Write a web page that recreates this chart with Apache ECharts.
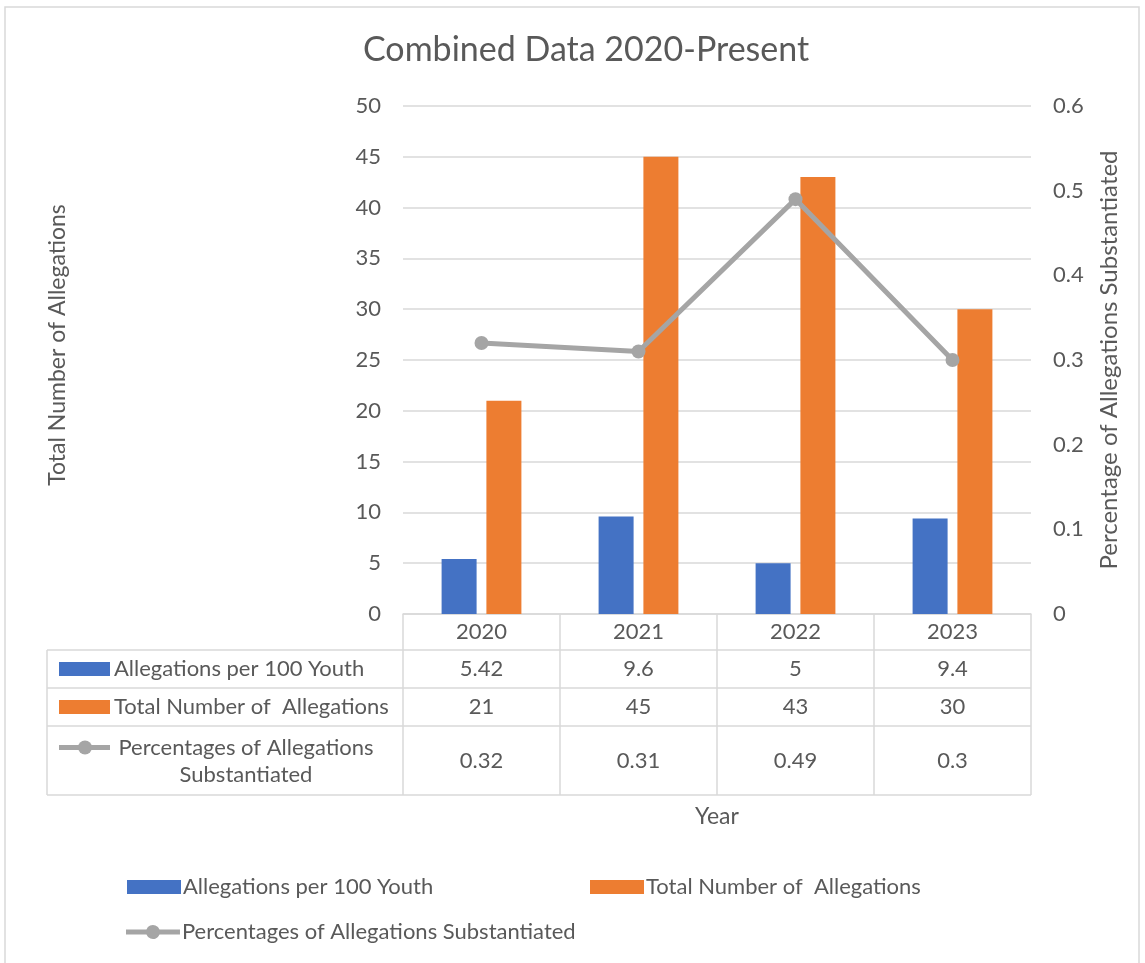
<!DOCTYPE html>
<html>
<head>
<meta charset="utf-8">
<script src="https://cdn.jsdelivr.net/npm/echarts@6/dist/echarts.min.js"></script>
<style>
  html, body { margin: 0; padding: 0; background: #fff; }
  #chart { width: 1145px; height: 963px; }
</style>
</head>
<body>
<div id="chart"></div>
<script>
// chart data
const years = ['2020', '2021', '2022', '2023'];
const perYouth = [5.42, 9.6, 5, 9.4];
const totalAllegations = [21, 45, 43, 30];
const pctSubstantiated = [0.32, 0.31, 0.49, 0.3];
const seriesNames = [
  'Allegations per 100 Youth',
  'Total Number of  Allegations',
  'Percentages of Allegations Substantiated'
];
const tableLabels = [
  ['Allegations per 100 Youth'],
  ['Total Number of  Allegations'],
  ['Percentages of Allegations', 'Substantiated']
];

const colors = ['#4472C4', '#ED7D31', '#A5A5A5'];
const textColor = '#595959';
const lineColor = '#D9D9D9';
const font = 'Lato, "Open Sans", sans-serif';
const fs = 22;

const grid = { left: 403, right: 114, top: 106, bottom: 349 };
const W = 1145, H = 963;
const plotRight = W - grid.right;
const plotBottom = H - grid.bottom;
const tableLeft = 47;
const rowLines = [650, 688, 726, 795];

// line + dot legend icon, 54 x 14 box
const lineIcon = 'path://M0,4.5 L20.46,4.5 A7,7 0 0 1 33.54,4.5 L54,4.5 L54,9.5 L33.54,9.5 A7,7 0 0 1 20.46,9.5 L0,9.5 Z';

const chart = echarts.init(document.getElementById('chart'));

chart.setOption({
  animation: false,
  color: colors,
  textStyle: { fontFamily: font, color: textColor },
  title: {
    text: 'Combined Data 2020-Present',
    left: 358,
    top: 28,
    textStyle: { fontFamily: font, fontSize: 34, fontWeight: 'normal', color: textColor }
  },
  legend: [
    { data: [{ name: seriesNames[0], icon: 'rect' }], left: 127, top: 876 },
    { data: [{ name: seriesNames[1], icon: 'rect' }], left: 590, top: 876 },
    { data: [{ name: seriesNames[2], icon: lineIcon }], left: 126, top: 921 }
  ].map(l => Object.assign(l, {
    padding: 0,
    itemWidth: 54, itemHeight: 14, itemGap: 4,
    textStyle: { fontFamily: font, fontSize: fs, color: textColor, padding: [0, 0, 0, -3] }
  })),
  grid: grid,
  xAxis: {
    type: 'category',
    data: years,
    axisLine: { lineStyle: { color: lineColor, width: 1.5 } },
    axisTick: { show: false },
    axisLabel: { fontFamily: font, fontSize: fs, color: textColor, margin: 7 }
  },
  yAxis: [
    {
      type: 'value', min: 0, max: 50, interval: 5,
      axisLine: { show: false }, axisTick: { show: false },
      axisLabel: { fontFamily: font, fontSize: fs, color: textColor, margin: 22 },
      splitLine: { lineStyle: { color: lineColor, width: 1.5 } }
    },
    {
      type: 'value', min: 0, max: 0.6, interval: 0.1,
      name: 'Percentage of Allegations Substantiated',
      nameLocation: 'middle', nameRotate: 90, nameGap: 66,
      nameTextStyle: { fontFamily: font, fontSize: 24, color: textColor },
      axisLine: { show: false }, axisTick: { show: false },
      axisLabel: {
        fontFamily: font, fontSize: fs, color: textColor, margin: 22,
        formatter: v => String(Math.round(v * 10) / 10)
      },
      splitLine: { show: false }
    }
  ],
  series: [
    { name: seriesNames[0], type: 'bar', data: perYouth, barWidth: 35, barGap: '28%',
      itemStyle: { color: colors[0] } },
    { name: seriesNames[1], type: 'bar', data: totalAllegations, barWidth: 35,
      itemStyle: { color: colors[1] } },
    { name: seriesNames[2], type: 'line', yAxisIndex: 1, data: pctSubstantiated,
      symbol: 'circle', symbolSize: 14,
      lineStyle: { color: colors[2], width: 5 }, itemStyle: { color: colors[2] } }
  ]
});

// data table under the plot, built from the same arrays
const g = [];
const hLine = (x1, x2, y) => g.push({ type: 'line', shape: { x1, y1: y, x2, y2: y },
  style: { stroke: lineColor, lineWidth: 1.5 }, silent: true });
const vLine = (x, y1, y2) => g.push({ type: 'line', shape: { x1: x, y1, x2: x, y2 },
  style: { stroke: lineColor, lineWidth: 1.5 }, silent: true });

const colW = (plotRight - grid.left) / years.length;
rowLines.forEach(y => hLine(tableLeft, plotRight, y));
vLine(tableLeft, rowLines[0], rowLines[3]);
for (let i = 0; i <= years.length; i++) vLine(grid.left + i * colW, plotBottom, rowLines[3]);

const rowTops = [rowLines[0], rowLines[1], rowLines[2]];
const rowBottoms = [rowLines[1], rowLines[2], rowLines[3]];
const rowValues = [perYouth, totalAllegations, pctSubstantiated];
const txt = (x, y, text, align, size) => g.push({ type: 'text', x, y, silent: true,
  style: { text, font: (size || fs) + 'px ' + font, fill: textColor, align: align || 'left', verticalAlign: 'middle' } });

rowValues.forEach((vals, r) => {
  const cy = (rowTops[r] + rowBottoms[r]) / 2;
  vals.forEach((v, i) => txt(chart.convertToPixel({ xAxisIndex: 0 }, i), cy, String(v), 'center'));
  // legend key
  const ky = r === 2 ? cy - 13 : cy;
  if (r < 2) {
    g.push({ type: 'rect', shape: { x: 59, y: ky - 7, width: 51, height: 14 }, style: { fill: colors[r] }, silent: true });
  } else {
    g.push({ type: 'line', shape: { x1: 59, y1: ky, x2: 110, y2: ky }, style: { stroke: colors[2], lineWidth: 5 }, silent: true });
    g.push({ type: 'circle', shape: { cx: 85, cy: ky, r: 7 }, style: { fill: colors[2] }, silent: true });
  }
  const lines = tableLabels[r];
  if (lines.length === 1) {
    txt(114, cy, lines[0]);
  } else {
    txt(246, cy - 13, lines[0], 'center');
    txt(246, cy + 14, lines[1], 'center');
  }
});

// axis titles
g.push({ type: 'text', x: 58, y: 345, rotation: Math.PI / 2, silent: true,
  style: { text: 'Total Number of Allegations', font: '23px ' + font, fill: textColor, align: 'center', verticalAlign: 'middle' } });
txt((grid.left + plotRight) / 2, 817, 'Year', 'center', 23);

// outer chart border
g.push({ type: 'rect', shape: { x: 5, y: 7, width: 1134, height: 990 },
  style: { fill: 'none', stroke: lineColor, lineWidth: 1.5 }, silent: true, z: -1 });

chart.setOption({ graphic: g });
</script>
</body>
</html>
